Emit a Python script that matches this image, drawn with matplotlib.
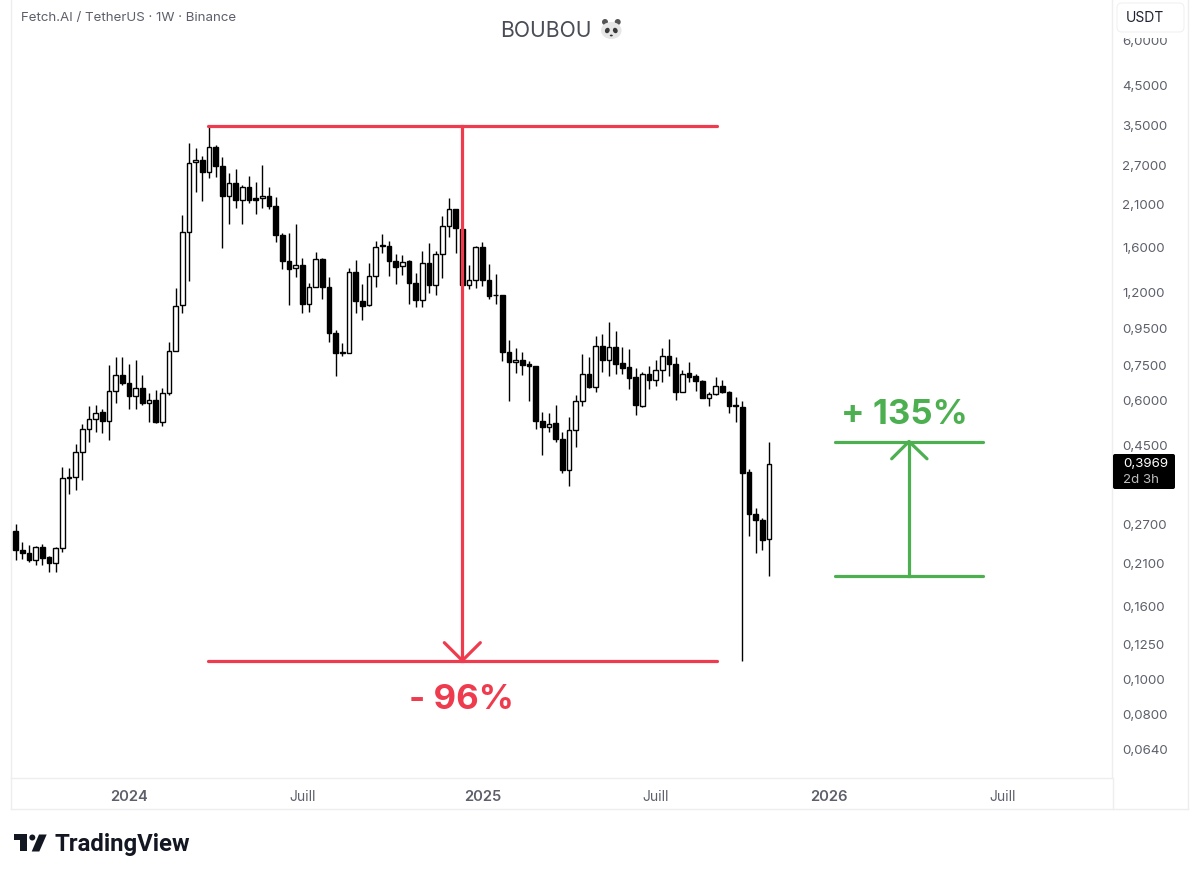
import matplotlib
matplotlib.use("Agg")
import matplotlib.pyplot as plt
from matplotlib.patches import Circle, Ellipse, FancyBboxPatch, Polygon, Rectangle

# body_top / body_bot are max/min of open and close, up=1 is a white candle
high = [.2695,.2395,.2350,.2346,.2371,.2190,.2326,.3874,.3859,.4508,
        .5124,.5750,.5788,.5630,.7464,.7857,.7887,.7526,.7722,.7015,
        .6263,.6372,.6442,.8649,1.227,1.956,3.108,2.998,2.859,3.465,
        3.062,2.830,2.555,2.621,2.370,2.511,2.412,2.694,2.335,2.198,
        1.739,1.739,1.846,1.487,1.262,1.540,1.481,1.312,.9359,.8594,
        1.390,1.466,1.257,1.435,1.659,1.728,1.659,1.523,1.513,1.466,
        1.346,1.556,1.631,1.556,1.947,2.176,2.030,1.795,1.419,1.606,
        1.642,1.427,1.340,1.171,.8778,.8324,.8144,.7687,.7432,.5523,
        .5488,.5788,.4859,.5369,.6171,.8010,.7857,.9006,.9104,.9829,
        .9316,.8404,.8271,.7322,.7165,.7431,.7722,.8324,.8817,.7887,
        .7243,.7639,.7047,.6793,.6303,.6938,.6793,.6343,.6104,.5938,
        .3834,.2986,.2800,.4575]
body_top = [.2570,.2286,.2238,.2330,.2330,.2176,.2311,.3619,.3649,.4264,
            .4953,.5291,.5509,.5523,.6331,.7015,.7028,.6651,.6442,.6466,
            .5965,.5977,.6263,.8181,1.0936,1.751,2.733,2.786,2.781,3.029,
            3.029,2.676,2.396,2.396,2.335,2.335,2.184,2.212,2.212,2.071,
            1.721,1.459,1.419,1.419,1.235,1.475,1.475,1.235,.9163,.8114,
            1.354,1.354,1.129,1.323,1.596,1.611,1.606,1.459,1.450,1.456,
            1.262,1.435,1.435,1.520,1.822,2.028,2.028,1.790,1.287,1.596,
            1.596,1.287,1.173,1.168,.8144,.7722,.7722,.7513,.7417,.5234,
            .5134,.5147,.4646,.4922,.5950,.7060,.7060,.8430,.8430,.8404,
            .8404,.7550,.7373,.6912,.7060,.7060,.7243,.7938,.7938,.7495,
            .7073,.7105,.6971,.6750,.6198,.6537,.6537,.6290,.5775,.5722,
            .3761,.2873,.2770,.3969]
body_bot = [.2286,.2238,.2135,.2135,.2168,.2099,.2099,.2311,.3619,.3633,
            .4264,.4963,.5291,.5234,.5234,.6343,.6651,.6144,.6144,.5874,
            .5874,.5190,.5200,.6263,.8181,1.096,1.757,2.742,2.571,2.571,
            2.681,2.208,2.208,2.152,2.148,2.148,2.152,2.184,2.071,1.721,
            1.459,1.386,1.390,1.105,1.108,1.235,1.235,.9163,.8092,.8077,
            .8061,1.129,1.091,1.094,1.325,1.604,1.459,1.404,1.407,1.262,
            1.134,1.132,1.248,1.248,1.520,1.826,1.796,1.245,1.245,1.287,
            1.287,1.161,1.168,.8144,.7609,.7609,.7476,.7417,.5234,.5027,
            .5009,.4646,.3800,.3816,.4930,.5950,.6507,.6507,.7722,.7722,
            .7537,.7351,.6894,.5788,.5762,.6780,.6780,.7257,.7513,.6303,
            .6303,.6938,.6735,.6054,.6065,.6198,.6290,.5750,.5750,.3744,
            .2873,.2770,.2437,.2442]
low = [.2135,.2158,.2107,.2077,.2077,.1976,.1976,.2247,.3272,.3357,
       .3564,.4557,.4847,.4828,.4625,.5851,.6579,.5630,.5650,.5788,
       .5200,.5167,.5058,.6171,.815,1.045,1.279,2.270,2.138,2.474,
       2.499,1.580,1.842,2.041,1.846,2.115,1.964,2.041,2.032,1.642,
       1.381,1.098,1.317,1.045,1.052,1.229,1.1415,.8682,.6983,.7938,
       .805,1.041,.998,1.088,1.229,1.530,1.323,1.257,1.331,1.105,
       1.082,1.082,1.184,1.171,1.303,1.695,1.530,1.115,1.217,1.227,
       1.240,1.139,1.105,.7673,.5950,.7091,.7015,.5950,.4963,.4183,
       .4872,.4575,.3737,.3430,.4403,.5750,.6442,.6279,.7165,.6983,
       .7060,.7047,.6412,.5439,.5722,.6412,.6537,.6720,.6983,.5977,
       .6279,.6720,.6343,.6030,.5750,.6171,.6237,.5509,.5200,.1123,
       .2501,.2238,.2286,.1926]
up = [0,0,0,1,0,0,1,1,1,1,1,1,1,0,1,1,0,0,1,0,
      1,0,1,1,1,1,1,1,0,1,0,0,1,0,1,0,0,1,0,0,
      0,0,1,0,1,1,0,0,0,1,1,0,0,1,1,1,0,0,1,0,
      0,1,0,1,1,1,0,0,1,1,0,0,0,0,0,1,0,0,0,0,
      1,0,0,1,1,1,0,1,0,1,0,0,0,0,1,0,1,1,0,0,
      1,0,0,0,1,1,0,0,0,0,0,0,0,1]

price_ticks = [6.0,4.5,3.5,2.7,2.1,1.6,1.2,.95,.75,.6,.45,.27,.21,.16,.125,.1,.08,.064]
price_labels = ["6,0000","4,5000","3,5000","2,7000","2,1000","1,6000","1,2000","0,9500","0,7500",
                "0,6000","0,4500","0,2700","0,2100","0,1600","0,1250","0,1000","0,0800","0,0640"]
date_ticks = [17,43,70,96,122,148]
date_labels = ["2024","Juill","2025","Juill","2026","Juill"]

drop_levels = [3.465,.1123]
rise_levels = [.1926,.4575]

RED = "#ee3b4e"
GREEN = "#4caf50"
GRID = "#eeeef0"
LABEL = "#5d606b"

plt.rcParams['font.family'] = ['Inter','DejaVu Sans']
fig = plt.figure(figsize=(12,8.78),dpi=100)
ax = fig.add_axes([11/1200,1-779/878,(1112-11)/1200,779/878])
ax.set_yscale('log')
ax.set_xlim(-0.7,164.45)
ax.set_ylim(.05292,7.803)

x = list(range(len(high)))
ax.vlines(x,low,high,color='black',lw=1.0,zorder=2)
body_h = [t-b for t,b in zip(body_top,body_bot)]
face = ['white' if u else 'black' for u in up]
ax.bar(x,body_h,bottom=body_bot,width=0.66,color=face,edgecolor='black',lw=1.0,zorder=3)

# drawn levels, x in candle numbers
ax.plot([28.9,105.2],[drop_levels[0]]*2,color=RED,lw=2.3,solid_capstyle='round',zorder=4)
ax.plot([28.9,105.2],[drop_levels[1]]*2,color=RED,lw=2.3,solid_capstyle='round',zorder=4)
ax.plot([67,67],drop_levels,color=RED,lw=2.3,zorder=4)
ax.plot([64.3,67,69.7],[.126,drop_levels[1],.126],color=RED,lw=2.3,solid_capstyle='round',zorder=4)
ax.plot([122.9,145.1],[rise_levels[0]]*2,color=GREEN,lw=2.3,solid_capstyle='round',zorder=4)
ax.plot([122.9,145.1],[rise_levels[1]]*2,color=GREEN,lw=2.3,solid_capstyle='round',zorder=4)
ax.plot([134,134],rise_levels,color=GREEN,lw=2.3,zorder=4)
ax.plot([131.4,134,136.7],[.4095,rise_levels[1],.4095],color=GREEN,lw=2.3,solid_capstyle='round',zorder=4)

ax.yaxis.tick_right()
ax.set_yticks(price_ticks)
ax.set_yticklabels(price_labels)
ax.minorticks_off()
ax.tick_params(axis='y',length=0,pad=7.5,labelsize=9.6,labelcolor=LABEL)
ax.set_xticks(date_ticks)
ax.set_xticklabels(date_labels)
ax.tick_params(axis='x',length=0,pad=8,labelsize=10,labelcolor=LABEL)
for lab in ax.get_xticklabels():
    if lab.get_text()!="Juill":
        lab.set_fontweight('semibold')
        lab.set_fontsize(10.6)
ax.spines['top'].set_visible(False)
for s in ['left','right','bottom']:
    ax.spines[s].set_color(GRID)
    ax.spines[s].set_linewidth(1.0)

# everything around the chart, in screenshot pixels
ov = fig.add_axes([0,0,1,1],facecolor='none')
ov.set_xlim(0,1200)
ov.set_ylim(878,0)
ov.axis('off')
ov.plot([11,1188],[810,810],color=GRID,lw=1.0)
ov.plot([11,11],[779,810],color=GRID,lw=1.0)
ov.plot([1112.5,1112.5],[779,810],color=GRID,lw=1.0)
ov.plot([1188,1188],[0,810],color=GRID,lw=1.0)

ov.text(21,17.5,"Fetch.AI / TetherUS · 1W · Binance",fontsize=9.6,color=LABEL,va='center',ha='left')
ov.text(500,31,"BOUBOU",fontsize=15.2,color="#4a4d57",va='center',ha='left')

# panda emoji, no colour emoji font here
ov.add_patch(Circle((605,23),3,color="#555555",lw=0))
ov.add_patch(Circle((617.7,23),3,color="#555555",lw=0))
ov.add_patch(Ellipse((611.3,31.5),20.5,17,color="#e6e6e6",lw=0))
ov.add_patch(Ellipse((607.3,31.5),4.6,5.6,angle=25,color="#3a3a3a",lw=0))
ov.add_patch(Ellipse((615.3,31.5),4.6,5.6,angle=-25,color="#3a3a3a",lw=0))
ov.add_patch(Ellipse((611.3,36.5),3,1.8,color="#333333",lw=0))

# the currency button hides the top of the 6,0000 label
ov.add_patch(Rectangle((1114,0),73,38.5,fc='white',ec='none',zorder=4))
ov.add_patch(FancyBboxPatch((1119,6),63,25,boxstyle="round,pad=2,rounding_size=5",fc='white',ec="#f1f1f3",lw=0.8,zorder=5))
ov.text(1145,18.5,"USDT",fontsize=10,color="#1f2230",ha='center',va='center',zorder=6)

ov.add_patch(FancyBboxPatch((1114,456),60,33,boxstyle="round,pad=1,rounding_size=2",fc='black',ec='black',lw=0,zorder=5))
ov.text(1123,464.5,"0,3969",fontsize=9.6,color='white',ha='left',va='center',zorder=6)
ov.text(1123,480,"2d 3h",fontsize=9.6,color="#bdbdbd",ha='left',va='center',zorder=6)

ov.text(461,700,"- 96%",fontsize=25,color=RED,fontweight='bold',ha='center',va='center')
ov.text(904,415,"+ 135%",fontsize=25,color=GREEN,fontweight='bold',ha='center',va='center')

# TradingView logo
ov.add_patch(Polygon([(13.5,835.5),(26.7,835.5),(26.7,852.5),(20,852.5),(20,841.3),(13.5,841.3)],color="#131722",lw=0))
ov.add_patch(Circle((32.3,838.5),3,color="#131722",lw=0))
ov.add_patch(Polygon([(39,835.5),(46.7,835.5),(39.3,852.5),(31.7,852.5)],color="#131722",lw=0))
ov.text(54.5,845,"TradingView",fontsize=17.2,color="#131722",fontweight='bold',family=['Roboto'],ha='left',va='center')

fig.savefig("out.png",dpi=100)
